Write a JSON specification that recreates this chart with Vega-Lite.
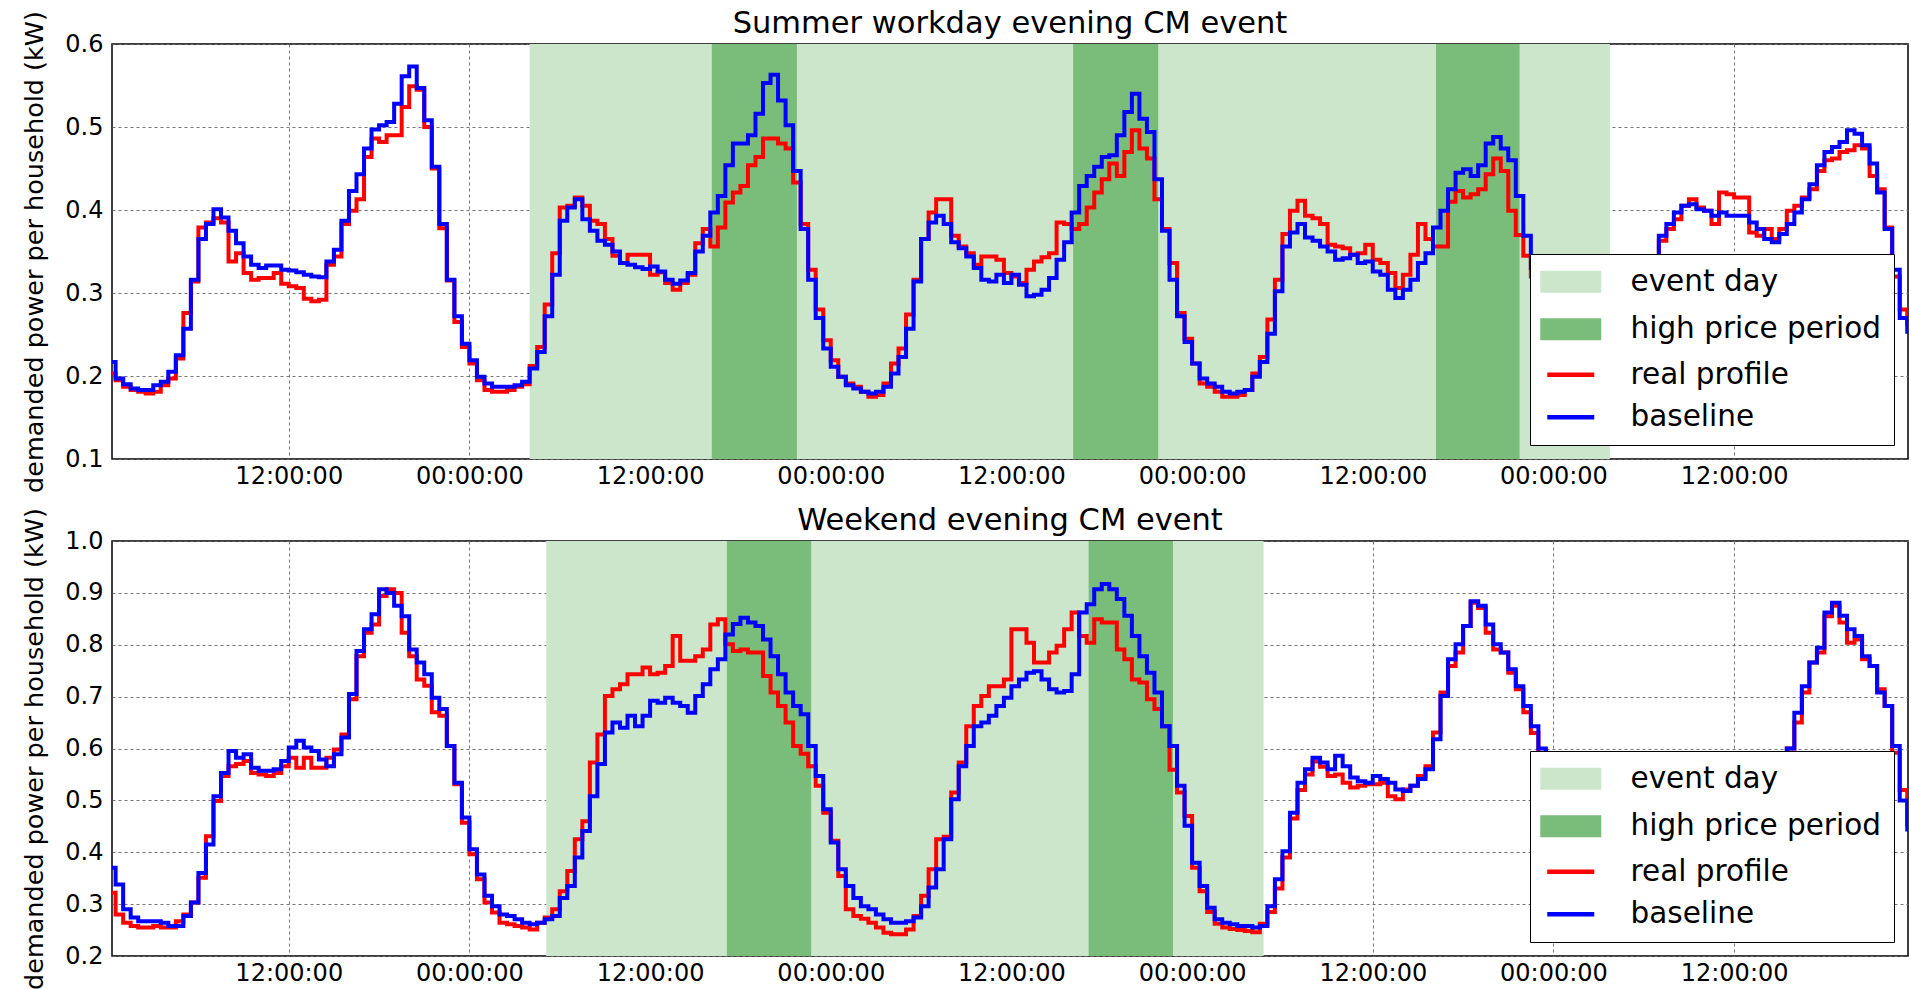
{
  "$schema": "https://vega.github.io/schema/vega-lite/v6.json",
  "padding": {"left": 22, "top": 7, "right": 0, "bottom": 0},
  "background": "white",
  "config": {
    "font": "DejaVu Sans",
    "view": {"stroke": "#000", "strokeWidth": 1.5},
    "axis": {
      "labelFont": "DejaVu Sans", "labelFontSize": 24, "labelColor": "#000",
      "titleFont": "DejaVu Sans", "titleFontSize": 25.5, "titleFontWeight": "normal", "titleColor": "#000",
      "domain": false, "ticks": false, "labelPadding": 9, "zindex": 1,
      "gridColor": "#666", "gridDash": [3, 3], "gridWidth": 1, "gridOpacity": 0.9
    },
    "axisX": {"labelPadding": 5},
    "title": {"font": "DejaVu Sans", "fontSize": 30.5, "fontWeight": "normal", "color": "#000", "frame": "group", "anchor": "middle", "offset": -28.5},
    "legend": {
      "orient": "bottom-right", "offset": 14,
      "fillColor": "#ffffff", "strokeColor": "#000000", "padding": 13, "cornerRadius": 0, "zindex": 2,
      "labelFont": "DejaVu Sans", "labelFontSize": 29.5, "labelColor": "#000", "labelLimit": 400,
      "symbolSize": 400, "symbolStrokeWidth": 4.5, "symbolOpacity": 1,
      "symbolOffset": 13, "labelOffset": 45, "rowPadding": 11.5
    }
  },
  "datasets": {
    "summerShade": [
      {"kind": "event day", "start": 28.0, "end": 99.75},
      {"kind": "high price period", "start": 40.1, "end": 45.75},
      {"kind": "high price period", "start": 64.1, "end": 69.75},
      {"kind": "high price period", "start": 88.2, "end": 93.75}
    ],
    "weekendShade": [
      {"kind": "event day", "start": 29.1, "end": 76.75},
      {"kind": "high price period", "start": 41.1, "end": 46.7},
      {"kind": "high price period", "start": 65.13, "end": 70.73}
    ],
    "summer": [
      {"h":0,"real":0.203,"base":0.217},{"h":0.5,"real":0.195,"base":0.197},{"h":1,"real":0.187,"base":0.19},{"h":1.5,"real":0.183,"base":0.185},
      {"h":2,"real":0.181,"base":0.183},{"h":2.5,"real":0.179,"base":0.183},{"h":3,"real":0.181,"base":0.189},{"h":3.5,"real":0.189,"base":0.193},
      {"h":4,"real":0.197,"base":0.205},{"h":4.5,"real":0.221,"base":0.225},{"h":5,"real":0.276,"base":0.257},{"h":5.5,"real":0.314,"base":0.316},
      {"h":6,"real":0.379,"base":0.365},{"h":6.5,"real":0.385,"base":0.383},{"h":7,"real":0.39,"base":0.401},{"h":7.5,"real":0.385,"base":0.391},
      {"h":8,"real":0.338,"base":0.375},{"h":8.5,"real":0.348,"base":0.36},{"h":9,"real":0.324,"base":0.344},{"h":9.5,"real":0.316,"base":0.334},
      {"h":10,"real":0.318,"base":0.33},{"h":10.5,"real":0.318,"base":0.333},{"h":11,"real":0.324,"base":0.333},{"h":11.5,"real":0.311,"base":0.328},
      {"h":12,"real":0.308,"base":0.327},{"h":12.5,"real":0.306,"base":0.325},{"h":13,"real":0.293,"base":0.322},{"h":13.5,"real":0.29,"base":0.32},
      {"h":14,"real":0.292,"base":0.319},{"h":14.5,"real":0.334,"base":0.338},{"h":15,"real":0.344,"base":0.352},{"h":15.5,"real":0.383,"base":0.387},
      {"h":16,"real":0.399,"base":0.423},{"h":16.5,"real":0.413,"base":0.443},{"h":17,"real":0.464,"base":0.474},{"h":17.5,"real":0.486,"base":0.497},
      {"h":18,"real":0.482,"base":0.502},{"h":18.5,"real":0.49,"base":0.506},{"h":19,"real":0.49,"base":0.528},{"h":19.5,"real":0.524,"base":0.561},
      {"h":20,"real":0.549,"base":0.573},{"h":20.5,"real":0.545,"base":0.547},{"h":21,"real":0.5,"base":0.508},{"h":21.5,"real":0.45,"base":0.452},
      {"h":22,"real":0.378,"base":0.383},{"h":22.5,"real":0.315,"base":0.316},{"h":23,"real":0.265,"base":0.272},{"h":23.5,"real":0.235,"base":0.239},
      {"h":24,"real":0.215,"base":0.219},{"h":24.5,"real":0.195,"base":0.199},{"h":25,"real":0.183,"base":0.191},{"h":25.5,"real":0.181,"base":0.187},
      {"h":26,"real":0.181,"base":0.187},{"h":26.5,"real":0.183,"base":0.187},{"h":27,"real":0.187,"base":0.189},{"h":27.5,"real":0.19,"base":0.193},
      {"h":28,"real":0.212,"base":0.209},{"h":28.5,"real":0.235,"base":0.229},{"h":29,"real":0.286,"base":0.272},{"h":29.5,"real":0.348,"base":0.322},
      {"h":30,"real":0.403,"base":0.387},{"h":30.5,"real":0.405,"base":0.403},{"h":31,"real":0.415,"base":0.413},{"h":31.5,"real":0.405,"base":0.389},
      {"h":32,"real":0.387,"base":0.375},{"h":32.5,"real":0.383,"base":0.363},{"h":33,"real":0.365,"base":0.358},{"h":33.5,"real":0.345,"base":0.35},
      {"h":34,"real":0.336,"base":0.336},{"h":34.5,"real":0.346,"base":0.334},{"h":35,"real":0.346,"base":0.331},{"h":35.5,"real":0.346,"base":0.329},
      {"h":36,"real":0.322,"base":0.332},{"h":36.5,"real":0.325,"base":0.326},{"h":37,"real":0.312,"base":0.316},{"h":37.5,"real":0.304,"base":0.311},
      {"h":38,"real":0.312,"base":0.315},{"h":38.5,"real":0.322,"base":0.324},{"h":39,"real":0.36,"base":0.35},{"h":39.5,"real":0.377,"base":0.369},
      {"h":40,"real":0.356,"base":0.397},{"h":40.5,"real":0.379,"base":0.417},{"h":41,"real":0.409,"base":0.454},{"h":41.5,"real":0.421,"base":0.48},
      {"h":42,"real":0.429,"base":0.48},{"h":42.5,"real":0.454,"base":0.49},{"h":43,"real":0.464,"base":0.516},{"h":43.5,"real":0.486,"base":0.553},
      {"h":44,"real":0.486,"base":0.563},{"h":44.5,"real":0.48,"base":0.532},{"h":45,"real":0.474,"base":0.502},{"h":45.5,"real":0.433,"base":0.447},
      {"h":46,"real":0.383,"base":0.377},{"h":46.5,"real":0.328,"base":0.316},{"h":47,"real":0.28,"base":0.27},{"h":47.5,"real":0.243,"base":0.233},
      {"h":48,"real":0.219,"base":0.211},{"h":48.5,"real":0.199,"base":0.199},{"h":49,"real":0.191,"base":0.189},{"h":49.5,"real":0.187,"base":0.185},
      {"h":50,"real":0.181,"base":0.181},{"h":50.5,"real":0.175,"base":0.179},{"h":51,"real":0.177,"base":0.181},{"h":51.5,"real":0.191,"base":0.187},
      {"h":52,"real":0.215,"base":0.203},{"h":52.5,"real":0.233,"base":0.223},{"h":53,"real":0.274,"base":0.257},{"h":53.5,"real":0.316,"base":0.314},
      {"h":54,"real":0.365,"base":0.365},{"h":54.5,"real":0.397,"base":0.385},{"h":55,"real":0.413,"base":0.393},{"h":55.5,"real":0.413,"base":0.383},
      {"h":56,"real":0.369,"base":0.361},{"h":56.5,"real":0.356,"base":0.354},{"h":57,"real":0.348,"base":0.344},{"h":57.5,"real":0.334,"base":0.33},
      {"h":58,"real":0.344,"base":0.316},{"h":58.5,"real":0.344,"base":0.314},{"h":59,"real":0.34,"base":0.322},{"h":59.5,"real":0.324,"base":0.312},
      {"h":60,"real":0.32,"base":0.322},{"h":60.5,"real":0.312,"base":0.31},{"h":61,"real":0.328,"base":0.296},{"h":61.5,"real":0.338,"base":0.298},
      {"h":62,"real":0.343,"base":0.304},{"h":62.5,"real":0.348,"base":0.318},{"h":63,"real":0.385,"base":0.34},{"h":63.5,"real":0.383,"base":0.361},
      {"h":64,"real":0.377,"base":0.397},{"h":64.5,"real":0.383,"base":0.429},{"h":65,"real":0.403,"base":0.441},{"h":65.5,"real":0.421,"base":0.452},
      {"h":66,"real":0.437,"base":0.464},{"h":66.5,"real":0.456,"base":0.466},{"h":67,"real":0.441,"base":0.49},{"h":67.5,"real":0.47,"base":0.518},
      {"h":68,"real":0.496,"base":0.54},{"h":68.5,"real":0.474,"base":0.51},{"h":69,"real":0.462,"base":0.494},{"h":69.5,"real":0.413,"base":0.437},
      {"h":70,"real":0.377,"base":0.375},{"h":70.5,"real":0.336,"base":0.316},{"h":71,"real":0.276,"base":0.272},{"h":71.5,"real":0.245,"base":0.241},
      {"h":72,"real":0.215,"base":0.215},{"h":72.5,"real":0.191,"base":0.197},{"h":73,"real":0.187,"base":0.191},{"h":73.5,"real":0.181,"base":0.187},
      {"h":74,"real":0.175,"base":0.181},{"h":74.5,"real":0.175,"base":0.179},{"h":75,"real":0.177,"base":0.181},{"h":75.5,"real":0.183,"base":0.183},
      {"h":76,"real":0.203,"base":0.199},{"h":76.5,"real":0.223,"base":0.217},{"h":77,"real":0.268,"base":0.251},{"h":77.5,"real":0.316,"base":0.302},
      {"h":78,"real":0.371,"base":0.356},{"h":78.5,"real":0.399,"base":0.373},{"h":79,"real":0.411,"base":0.383},{"h":79.5,"real":0.393,"base":0.367},
      {"h":80,"real":0.39,"base":0.363},{"h":80.5,"real":0.383,"base":0.356},{"h":81,"real":0.358,"base":0.35},{"h":81.5,"real":0.356,"base":0.34},
      {"h":82,"real":0.354,"base":0.342},{"h":82.5,"real":0.346,"base":0.346},{"h":83,"real":0.348,"base":0.336},{"h":83.5,"real":0.358,"base":0.338},
      {"h":84,"real":0.34,"base":0.326},{"h":84.5,"real":0.336,"base":0.322},{"h":85,"real":0.324,"base":0.304},{"h":85.5,"real":0.306,"base":0.294},
      {"h":86,"real":0.322,"base":0.304},{"h":86.5,"real":0.346,"base":0.316},{"h":87,"real":0.383,"base":0.336},{"h":87.5,"real":0.365,"base":0.348},
      {"h":88,"real":0.356,"base":0.379},{"h":88.5,"real":0.356,"base":0.399},{"h":89,"real":0.41,"base":0.425},{"h":89.5,"real":0.423,"base":0.445},
      {"h":90,"real":0.415,"base":0.449},{"h":90.5,"real":0.419,"base":0.441},{"h":91,"real":0.425,"base":0.454},{"h":91.5,"real":0.443,"base":0.48},
      {"h":92,"real":0.462,"base":0.488},{"h":92.5,"real":0.447,"base":0.474},{"h":93,"real":0.399,"base":0.46},{"h":93.5,"real":0.37,"base":0.417},
      {"h":94,"real":0.345,"base":0.369},{"h":94.5,"real":0.32,"base":0.33},{"h":95,"real":0.28,"base":0.29},{"h":95.5,"real":0.255,"base":0.26},
      {"h":96,"real":0.23,"base":0.235},{"h":96.5,"real":0.21,"base":0.215},{"h":97,"real":0.197,"base":0.2},{"h":97.5,"real":0.19,"base":0.193},
      {"h":98,"real":0.185,"base":0.188},{"h":98.5,"real":0.182,"base":0.185},{"h":99,"real":0.18,"base":0.183},{"h":99.5,"real":0.182,"base":0.185},
      {"h":100,"real":0.19,"base":0.19},{"h":100.5,"real":0.205,"base":0.2},{"h":101,"real":0.225,"base":0.22},{"h":101.5,"real":0.26,"base":0.25},
      {"h":102,"real":0.3,"base":0.29},{"h":102.5,"real":0.335,"base":0.33},{"h":103,"real":0.363,"base":0.369},{"h":103.5,"real":0.377,"base":0.383},
      {"h":104,"real":0.389,"base":0.397},{"h":104.5,"real":0.405,"base":0.405},{"h":105,"real":0.413,"base":0.407},{"h":105.5,"real":0.403,"base":0.401},
      {"h":106,"real":0.399,"base":0.399},{"h":106.5,"real":0.383,"base":0.393},{"h":107,"real":0.421,"base":0.397},{"h":107.5,"real":0.419,"base":0.393},
      {"h":108,"real":0.415,"base":0.393},{"h":108.5,"real":0.415,"base":0.393},{"h":109,"real":0.373,"base":0.385},{"h":109.5,"real":0.369,"base":0.377},
      {"h":110,"real":0.377,"base":0.365},{"h":110.5,"real":0.365,"base":0.361},{"h":111,"real":0.377,"base":0.371},{"h":111.5,"real":0.399,"base":0.383},
      {"h":112,"real":0.405,"base":0.397},{"h":112.5,"real":0.415,"base":0.413},{"h":113,"real":0.425,"base":0.431},{"h":113.5,"real":0.447,"base":0.454},
      {"h":114,"real":0.46,"base":0.47},{"h":114.5,"real":0.462,"base":0.476},{"h":115,"real":0.47,"base":0.482},{"h":115.5,"real":0.472,"base":0.496},
      {"h":116,"real":0.478,"base":0.492},{"h":116.5,"real":0.474,"base":0.478},{"h":117,"real":0.441,"base":0.456},{"h":117.5,"real":0.425,"base":0.421},
      {"h":118,"real":0.379,"base":0.377},{"h":118.5,"real":0.32,"base":0.328},{"h":119,"real":0.28,"base":0.27},{"h":119.5,"real":0.26,"base":0.251}
    ],
    "weekend": [
      {"h":0,"real":0.322,"base":0.37},{"h":0.5,"real":0.28,"base":0.338},{"h":1,"real":0.264,"base":0.29},{"h":1.5,"real":0.258,"base":0.274},
      {"h":2,"real":0.255,"base":0.267},{"h":2.5,"real":0.255,"base":0.267},{"h":3,"real":0.258,"base":0.267},{"h":3.5,"real":0.255,"base":0.264},
      {"h":4,"real":0.255,"base":0.258},{"h":4.5,"real":0.267,"base":0.258},{"h":5,"real":0.28,"base":0.277},{"h":5.5,"real":0.303,"base":0.303},
      {"h":6,"real":0.351,"base":0.36},{"h":6.5,"real":0.431,"base":0.415},{"h":7,"real":0.499,"base":0.508},{"h":7.5,"real":0.547,"base":0.553},
      {"h":8,"real":0.566,"base":0.595},{"h":8.5,"real":0.57,"base":0.582},{"h":9,"real":0.576,"base":0.589},{"h":9.5,"real":0.553,"base":0.563},
      {"h":10,"real":0.55,"base":0.557},{"h":10.5,"real":0.547,"base":0.557},{"h":11,"real":0.553,"base":0.56},{"h":11.5,"real":0.566,"base":0.576},
      {"h":12,"real":0.582,"base":0.602},{"h":12.5,"real":0.563,"base":0.615},{"h":13,"real":0.582,"base":0.602},{"h":13.5,"real":0.563,"base":0.595},
      {"h":14,"real":0.563,"base":0.579},{"h":14.5,"real":0.582,"base":0.566},{"h":15,"real":0.598,"base":0.589},{"h":15.5,"real":0.627,"base":0.621},
      {"h":16,"real":0.695,"base":0.705},{"h":16.5,"real":0.778,"base":0.788},{"h":17,"real":0.823,"base":0.83},{"h":17.5,"real":0.839,"base":0.859},
      {"h":18,"real":0.894,"base":0.907},{"h":18.5,"real":0.907,"base":0.9},{"h":19,"real":0.9,"base":0.875},{"h":19.5,"real":0.823,"base":0.855},
      {"h":20,"real":0.778,"base":0.791},{"h":20.5,"real":0.733,"base":0.766},{"h":21,"real":0.721,"base":0.743},{"h":21.5,"real":0.67,"base":0.698},
      {"h":22,"real":0.663,"base":0.676},{"h":22.5,"real":0.605,"base":0.605},{"h":23,"real":0.531,"base":0.534},{"h":23.5,"real":0.457,"base":0.467},
      {"h":24,"real":0.396,"base":0.406},{"h":24.5,"real":0.348,"base":0.357},{"h":25,"real":0.303,"base":0.316},{"h":25.5,"real":0.284,"base":0.296},
      {"h":26,"real":0.264,"base":0.28},{"h":26.5,"real":0.261,"base":0.277},{"h":27,"real":0.258,"base":0.271},{"h":27.5,"real":0.255,"base":0.264},
      {"h":28,"real":0.251,"base":0.261},{"h":28.5,"real":0.264,"base":0.264},{"h":29,"real":0.274,"base":0.271},{"h":29.5,"real":0.29,"base":0.277},
      {"h":30,"real":0.325,"base":0.312},{"h":30.5,"real":0.364,"base":0.335},{"h":31,"real":0.425,"base":0.39},{"h":31.5,"real":0.46,"base":0.441},
      {"h":32,"real":0.573,"base":0.508},{"h":32.5,"real":0.627,"base":0.57},{"h":33,"real":0.701,"base":0.631},{"h":33.5,"real":0.714,"base":0.65},
      {"h":34,"real":0.724,"base":0.64},{"h":34.5,"real":0.743,"base":0.663},{"h":35,"real":0.743,"base":0.643},{"h":35.5,"real":0.756,"base":0.663},
      {"h":36,"real":0.743,"base":0.692},{"h":36.5,"real":0.746,"base":0.688},{"h":37,"real":0.759,"base":0.698},{"h":37.5,"real":0.817,"base":0.688},
      {"h":38,"real":0.769,"base":0.682},{"h":38.5,"real":0.769,"base":0.669},{"h":39,"real":0.778,"base":0.701},{"h":39.5,"real":0.791,"base":0.724},
      {"h":40,"real":0.839,"base":0.753},{"h":40.5,"real":0.849,"base":0.772},{"h":41,"real":0.801,"base":0.82},{"h":41.5,"real":0.788,"base":0.84},
      {"h":42,"real":0.791,"base":0.852},{"h":42.5,"real":0.785,"base":0.843},{"h":43,"real":0.785,"base":0.836},{"h":43.5,"real":0.74,"base":0.81},
      {"h":44,"real":0.708,"base":0.778},{"h":44.5,"real":0.682,"base":0.743},{"h":45,"real":0.65,"base":0.708},{"h":45.5,"real":0.605,"base":0.682},
      {"h":46,"real":0.59,"base":0.666},{"h":46.5,"real":0.566,"base":0.605},{"h":47,"real":0.528,"base":0.547},{"h":47.5,"real":0.476,"base":0.483},
      {"h":48,"real":0.422,"base":0.419},{"h":48.5,"real":0.354,"base":0.367},{"h":49,"real":0.29,"base":0.335},{"h":49.5,"real":0.277,"base":0.312},
      {"h":50,"real":0.272,"base":0.296},{"h":50.5,"real":0.264,"base":0.29},{"h":51,"real":0.255,"base":0.28},{"h":51.5,"real":0.245,"base":0.271},
      {"h":52,"real":0.242,"base":0.264},{"h":52.5,"real":0.242,"base":0.264},{"h":53,"real":0.251,"base":0.267},{"h":53.5,"real":0.277,"base":0.274},
      {"h":54,"real":0.316,"base":0.296},{"h":54.5,"real":0.367,"base":0.332},{"h":55,"real":0.425,"base":0.367},{"h":55.5,"real":0.43,"base":0.425},
      {"h":56,"real":0.515,"base":0.502},{"h":56.5,"real":0.573,"base":0.566},{"h":57,"real":0.643,"base":0.605},{"h":57.5,"real":0.682,"base":0.643},
      {"h":58,"real":0.701,"base":0.65},{"h":58.5,"real":0.72,"base":0.663},{"h":59,"real":0.72,"base":0.682},{"h":59.5,"real":0.733,"base":0.698},
      {"h":60,"real":0.83,"base":0.72},{"h":60.5,"real":0.83,"base":0.733},{"h":61,"real":0.804,"base":0.746},{"h":61.5,"real":0.766,"base":0.749},
      {"h":62,"real":0.766,"base":0.733},{"h":62.5,"real":0.785,"base":0.714},{"h":63,"real":0.798,"base":0.708},{"h":63.5,"real":0.83,"base":0.711},
      {"h":64,"real":0.862,"base":0.743},{"h":64.5,"real":0.817,"base":0.862},{"h":65,"real":0.804,"base":0.878},{"h":65.5,"real":0.849,"base":0.907},
      {"h":66,"real":0.843,"base":0.917},{"h":66.5,"real":0.843,"base":0.907},{"h":67,"real":0.791,"base":0.888},{"h":67.5,"real":0.772,"base":0.856},
      {"h":68,"real":0.733,"base":0.817},{"h":68.5,"real":0.727,"base":0.778},{"h":69,"real":0.695,"base":0.746},{"h":69.5,"real":0.676,"base":0.708},
      {"h":70,"real":0.643,"base":0.643},{"h":70.5,"real":0.559,"base":0.605},{"h":71,"real":0.515,"base":0.528},{"h":71.5,"real":0.47,"base":0.451},
      {"h":72,"real":0.37,"base":0.38},{"h":72.5,"real":0.325,"base":0.335},{"h":73,"real":0.285,"base":0.293},{"h":73.5,"real":0.262,"base":0.271},
      {"h":74,"real":0.255,"base":0.264},{"h":74.5,"real":0.252,"base":0.261},{"h":75,"real":0.25,"base":0.258},{"h":75.5,"real":0.248,"base":0.258},
      {"h":76,"real":0.246,"base":0.255},{"h":76.5,"real":0.262,"base":0.258},{"h":77,"real":0.285,"base":0.296},{"h":77.5,"real":0.33,"base":0.348},
      {"h":78,"real":0.39,"base":0.402},{"h":78.5,"real":0.465,"base":0.476},{"h":79,"real":0.52,"base":0.534},{"h":79.5,"real":0.55,"base":0.56},
      {"h":80,"real":0.575,"base":0.582},{"h":80.5,"real":0.565,"base":0.573},{"h":81,"real":0.547,"base":0.56},{"h":81.5,"real":0.55,"base":0.586},
      {"h":82,"real":0.534,"base":0.566},{"h":82.5,"real":0.525,"base":0.544},{"h":83,"real":0.528,"base":0.537},{"h":83.5,"real":0.531,"base":0.534},
      {"h":84,"real":0.531,"base":0.547},{"h":84.5,"real":0.534,"base":0.541},{"h":85,"real":0.508,"base":0.534},{"h":85.5,"real":0.502,"base":0.521},
      {"h":86,"real":0.521,"base":0.518},{"h":86.5,"real":0.528,"base":0.528},{"h":87,"real":0.547,"base":0.541},{"h":87.5,"real":0.566,"base":0.56},
      {"h":88,"real":0.631,"base":0.618},{"h":88.5,"real":0.708,"base":0.701},{"h":89,"real":0.759,"base":0.772},{"h":89.5,"real":0.785,"base":0.801},
      {"h":90,"real":0.836,"base":0.836},{"h":90.5,"real":0.881,"base":0.884},{"h":91,"real":0.871,"base":0.875},{"h":91.5,"real":0.823,"base":0.839},
      {"h":92,"real":0.791,"base":0.801},{"h":92.5,"real":0.785,"base":0.785},{"h":93,"real":0.746,"base":0.753},{"h":93.5,"real":0.714,"base":0.72},
      {"h":94,"real":0.67,"base":0.682},{"h":94.5,"real":0.63,"base":0.643},{"h":95,"real":0.59,"base":0.6},{"h":95.5,"real":0.54,"base":0.55},
      {"h":96,"real":0.48,"base":0.49},{"h":96.5,"real":0.42,"base":0.43},{"h":97,"real":0.37,"base":0.38},{"h":97.5,"real":0.33,"base":0.34},
      {"h":98,"real":0.3,"base":0.31},{"h":98.5,"real":0.28,"base":0.29},{"h":99,"real":0.27,"base":0.28},{"h":99.5,"real":0.262,"base":0.27},
      {"h":100,"real":0.257,"base":0.265},{"h":100.5,"real":0.255,"base":0.262},{"h":101,"real":0.258,"base":0.265},{"h":101.5,"real":0.27,"base":0.275},
      {"h":102,"real":0.295,"base":0.3},{"h":102.5,"real":0.345,"base":0.35},{"h":103,"real":0.41,"base":0.42},{"h":103.5,"real":0.47,"base":0.48},
      {"h":104,"real":0.52,"base":0.53},{"h":104.5,"real":0.54,"base":0.55},{"h":105,"real":0.55,"base":0.56},{"h":105.5,"real":0.545,"base":0.555},
      {"h":106,"real":0.54,"base":0.55},{"h":106.5,"real":0.535,"base":0.545},{"h":107,"real":0.535,"base":0.54},{"h":107.5,"real":0.53,"base":0.54},
      {"h":108,"real":0.54,"base":0.545},{"h":108.5,"real":0.545,"base":0.55},{"h":109,"real":0.53,"base":0.54},{"h":109.5,"real":0.525,"base":0.535},
      {"h":110,"real":0.535,"base":0.545},{"h":110.5,"real":0.555,"base":0.56},{"h":111,"real":0.57,"base":0.58},{"h":111.5,"real":0.6,"base":0.6},
      {"h":112,"real":0.65,"base":0.669},{"h":112.5,"real":0.708,"base":0.72},{"h":113,"real":0.766,"base":0.766},{"h":113.5,"real":0.785,"base":0.794},
      {"h":114,"real":0.855,"base":0.862},{"h":114.5,"real":0.875,"base":0.881},{"h":115,"real":0.843,"base":0.856},{"h":115.5,"real":0.804,"base":0.83},
      {"h":116,"real":0.81,"base":0.817},{"h":116.5,"real":0.772,"base":0.778},{"h":117,"real":0.759,"base":0.759},{"h":117.5,"real":0.714,"base":0.708},
      {"h":118,"real":0.682,"base":0.682},{"h":118.5,"real":0.592,"base":0.605},{"h":119,"real":0.52,"base":0.5},{"h":119.5,"real":0.45,"base":0.44}
    ]
  },
  "bounds": "flush",
  "spacing": 82,
  "resolve": {
    "scale": {"x": "independent", "y": "independent", "color": "independent", "shape": "independent"},
    "legend": {"color": "independent", "shape": "independent"}
  },
  "vconcat": [
    {
      "title": "Summer workday evening CM event",
      "width": 1796,
      "height": 415,
      "layer": [
        {
          "data": {"name": "summerShade"},
          "transform": [{"filter": "datum.kind === 'event day'"}],
          "mark": {"type": "rect"},
          "encoding": {
            "x": {"field": "start", "type": "quantitative", "scale": {"domain": [0.26, 119.55], "nice": false, "zero": false},
                  "axis": {"values": [12, 24, 36, 48, 60, 72, 84, 96, 108], "labelExpr": "datum.value % 24 === 0 ? '00:00:00' : '12:00:00'", "title": null, "grid": true, "labelOverlap": false, "labelFlush": false}},
            "x2": {"field": "end"},
            "color": {
              "field": "kind", "type": "nominal",
              "scale": {"domain": ["event day", "high price period", "real profile", "baseline"], "range": ["#cce6cc", "#7abd7a", "#ff0000", "#0000ff"]},
              "legend": {"title": null}
            }
          }
        },
        {
          "data": {"name": "summerShade"},
          "transform": [{"filter": "datum.kind === 'high price period'"}],
          "mark": {"type": "rect"},
          "encoding": {
            "x": {"field": "start", "type": "quantitative", "scale": {"domain": [0.26, 119.55], "nice": false, "zero": false}},
            "x2": {"field": "end"},
            "color": {"field": "kind", "type": "nominal", "legend": {"title": null}}
          }
        },
        {
          "data": {"name": "summer"},
          "mark": {"type": "line", "interpolate": "step-after", "strokeWidth": 4, "clip": true},
          "encoding": {
            "x": {"field": "h", "type": "quantitative", "scale": {"domain": [0.26, 119.55], "nice": false, "zero": false}},
            "y": {"field": "real", "type": "quantitative", "scale": {"domain": [0.1, 0.6], "nice": false, "zero": false},
                  "axis": {"values": [0.1, 0.2, 0.3, 0.4, 0.5, 0.6], "format": ".1f", "title": "demanded power per household (kW)", "titlePadding": 17, "grid": true, "labelOverlap": false}},
            "color": {"datum": "real profile", "type": "nominal", "legend": {"title": null}}
          }
        },
        {
          "data": {"name": "summer"},
          "mark": {"type": "line", "interpolate": "step-after", "strokeWidth": 4, "clip": true},
          "encoding": {
            "x": {"field": "h", "type": "quantitative", "scale": {"domain": [0.26, 119.55], "nice": false, "zero": false}},
            "y": {"field": "base", "type": "quantitative", "scale": {"domain": [0.1, 0.6], "nice": false, "zero": false}},
            "color": {"datum": "baseline", "type": "nominal", "legend": {"title": null}}
          }
        },
        {
          "data": {"name": "summerShade"},
          "mark": {"type": "point", "opacity": 0, "filled": true},
          "encoding": {
            "x": {"field": "start", "type": "quantitative", "scale": {"domain": [0.26, 119.55], "nice": false, "zero": false}},
            "shape": {
              "field": "kind", "type": "nominal",
              "scale": {"domain": ["event day", "high price period", "real profile", "baseline"],
                        "range": ["M-2.825,-0.875H2.825V0.875H-2.825Z", "M-2.825,-0.875H2.825V0.875H-2.825Z", "M-2.35,0H2.35", "M-2.35,0H2.35"]},
              "legend": {"title": null}
            }
          }
        }
      ]
    },
    {
      "title": "Weekend evening CM event",
      "width": 1796,
      "height": 415,
      "layer": [
        {
          "data": {"name": "weekendShade"},
          "transform": [{"filter": "datum.kind === 'event day'"}],
          "mark": {"type": "rect"},
          "encoding": {
            "x": {"field": "start", "type": "quantitative", "scale": {"domain": [0.26, 119.55], "nice": false, "zero": false},
                  "axis": {"values": [12, 24, 36, 48, 60, 72, 84, 96, 108], "labelExpr": "datum.value % 24 === 0 ? '00:00:00' : '12:00:00'", "title": null, "grid": true, "labelOverlap": false, "labelFlush": false}},
            "x2": {"field": "end"},
            "color": {
              "field": "kind", "type": "nominal",
              "scale": {"domain": ["event day", "high price period", "real profile", "baseline"], "range": ["#cce6cc", "#7abd7a", "#ff0000", "#0000ff"]},
              "legend": {"title": null}
            }
          }
        },
        {
          "data": {"name": "weekendShade"},
          "transform": [{"filter": "datum.kind === 'high price period'"}],
          "mark": {"type": "rect"},
          "encoding": {
            "x": {"field": "start", "type": "quantitative", "scale": {"domain": [0.26, 119.55], "nice": false, "zero": false}},
            "x2": {"field": "end"},
            "color": {"field": "kind", "type": "nominal", "legend": {"title": null}}
          }
        },
        {
          "data": {"name": "weekend"},
          "mark": {"type": "line", "interpolate": "step-after", "strokeWidth": 4, "clip": true},
          "encoding": {
            "x": {"field": "h", "type": "quantitative", "scale": {"domain": [0.26, 119.55], "nice": false, "zero": false}},
            "y": {"field": "real", "type": "quantitative", "scale": {"domain": [0.2, 1.0], "nice": false, "zero": false},
                  "axis": {"values": [0.2, 0.3, 0.4, 0.5, 0.6, 0.7, 0.8, 0.9, 1.0], "format": ".1f", "title": "demanded power per household (kW)", "titlePadding": 17, "grid": true, "labelOverlap": false}},
            "color": {"datum": "real profile", "type": "nominal", "legend": {"title": null}}
          }
        },
        {
          "data": {"name": "weekend"},
          "mark": {"type": "line", "interpolate": "step-after", "strokeWidth": 4, "clip": true},
          "encoding": {
            "x": {"field": "h", "type": "quantitative", "scale": {"domain": [0.26, 119.55], "nice": false, "zero": false}},
            "y": {"field": "base", "type": "quantitative", "scale": {"domain": [0.2, 1.0], "nice": false, "zero": false}},
            "color": {"datum": "baseline", "type": "nominal", "legend": {"title": null}}
          }
        },
        {
          "data": {"name": "weekendShade"},
          "mark": {"type": "point", "opacity": 0, "filled": true},
          "encoding": {
            "x": {"field": "start", "type": "quantitative", "scale": {"domain": [0.26, 119.55], "nice": false, "zero": false}},
            "shape": {
              "field": "kind", "type": "nominal",
              "scale": {"domain": ["event day", "high price period", "real profile", "baseline"],
                        "range": ["M-2.825,-0.875H2.825V0.875H-2.825Z", "M-2.825,-0.875H2.825V0.875H-2.825Z", "M-2.35,0H2.35", "M-2.35,0H2.35"]},
              "legend": {"title": null}
            }
          }
        }
      ]
    }
  ]
}
